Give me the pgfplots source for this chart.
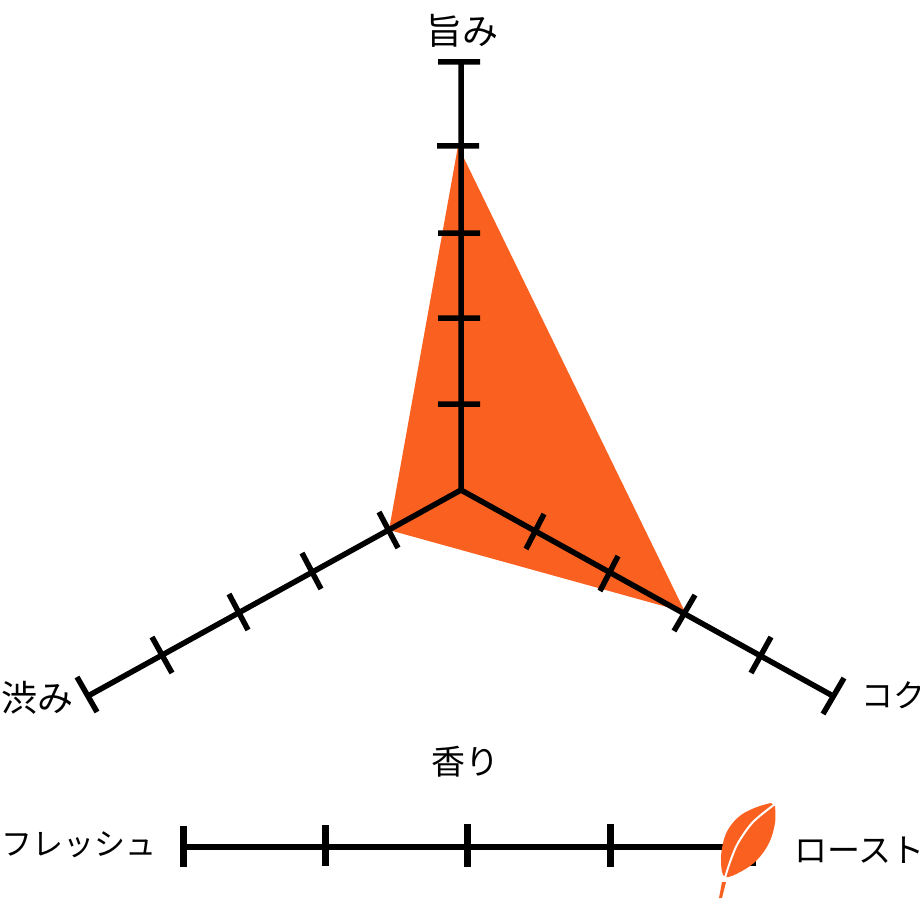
\documentclass[border=0pt]{standalone}
\usepackage{pgfplots}
\pgfplotsset{compat=1.18}
\usepackage{fontspec}
\setmainfont{Noto Sans CJK JP}
\definecolor{leaforange}{HTML}{FA6120}
\tikzset{
  jp/.style={font=\fontsize{#1}{36}\selectfont, text=black, inner sep=0pt},
  jp/.default=35,
}
\begin{document}
\begin{tikzpicture}
\useasboundingbox (0,0) rectangle (920pt,920pt);
\begin{axis}[
  at={(0,0)}, anchor=south west,
  scale only axis, width=920pt, height=920pt,
  hide axis, clip=false,
  xmin=0, xmax=920, ymin=0, ymax=920, y dir=reverse,
  unbounded coords=jump,
  every axis plot/.append style={no markers},
]
% profile polygon
\addplot[fill=leaforange, draw=none] coordinates {(458,146) (685,612) (389,530)} -- cycle;
% three spokes
\addplot[black, line width=5.5pt, line join=round] coordinates {(461,62) (461,490) (833,696)};
\addplot[black, line width=5.5pt, line join=round] coordinates {(461,490) (88,696)};
% spoke ticks
\addplot[black, line width=5.5pt] coordinates {
  (438,62) (480,62) (nan,nan)
  (437,146) (479,146) (nan,nan)
  (438,233) (480,233) (nan,nan)
  (438,318) (480,318) (nan,nan)
  (438,404) (480,404) (nan,nan)
  (526,549) (544,514) (nan,nan)
  (600,591) (618,556) (nan,nan)
  (674,631) (695,595) (nan,nan)
  (751,673) (771,637) (nan,nan)
  (823,714) (844,678) (nan,nan)
  (379,512) (398,548) (nan,nan)
  (302,553) (321,589) (nan,nan)
  (229,594) (248,630) (nan,nan)
  (152,637) (172,673) (nan,nan)
  (77,677) (97,712)
};
% aroma scale
\addplot[black, line width=5.5pt] coordinates {(183,847) (752,847)};
\addplot[black, line width=7pt] coordinates {
  (183,826) (183,867) (nan,nan)
  (325,825) (325,866) (nan,nan)
  (467,824) (467,867) (nan,nan)
  (610,824) (610,867) (nan,nan)
  (752,827) (752,866)
};
% leaf marker
\addplot[fill=leaforange, draw=none, smooth, tension=0.6] coordinates {
  (775,806) (775,823) (769,843) (757,860) (742,871) (725,877)
  (721,862) (723,843) (729,828) (741,815) (757,807) (771,803)} -- cycle;
\addplot[fill=leaforange, draw=none] coordinates {(722,882) (726,882) (722,898) (719,898)} -- cycle;
\addplot[white, line width=2pt, smooth] coordinates {(775,804) (753,822) (738,843) (730,862) (724,881)};
% labels
\node[jp=36] at (axis cs:462,31) {旨み};
\node[jp=36, anchor=west] at (axis cs:1,698) {渋み};
\node[jp=32, anchor=west] at (axis cs:861,695) {コク};
\node[jp=34] at (axis cs:465,762) {香り};
\node[jp=31, anchor=west] at (axis cs:1,845) {フレッシュ};
\node[jp=33, anchor=west] at (axis cs:794,850) {ロースト};
\end{axis}
\end{tikzpicture}
\end{document}
